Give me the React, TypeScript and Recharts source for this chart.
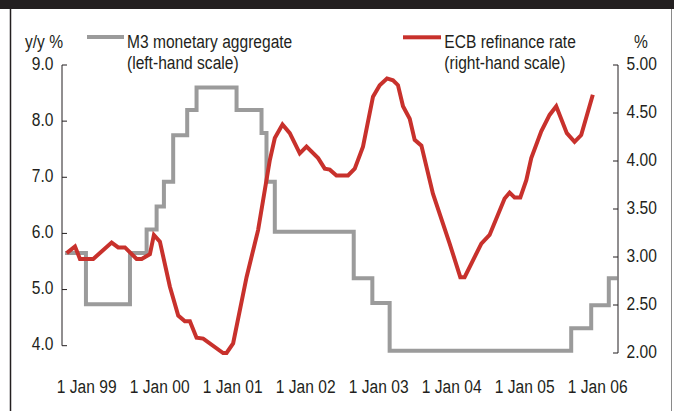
import React from "react";
import { ComposedChart, Line, XAxis, YAxis, ReferenceLine } from "recharts";

const FONT = "'Liberation Sans', Arial, Helvetica, sans-serif";
const INK = "#231f20";
const RED = "#c8312c";
const GREY = "#9b9b9b";
const FS = 19;
const SQUEEZE = 0.82;

// x axis: decimal years, ticks at 1 January
const xTickYears = [1999, 2000, 2001, 2002, 2003, 2004, 2005, 2006];
const xTickLabels = ["1 Jan 99", "1 Jan 00", "1 Jan 01", "1 Jan 02", "1 Jan 03", "1 Jan 04", "1 Jan 05", "1 Jan 06"];
const xDomain = [1998.662, 2006.278];

const leftTicks = [4, 5, 6, 7, 8, 9];
const leftDomain = [3.87, 9];
const rightTicks = [2, 2.5, 3, 3.5, 4, 4.5, 5];
const rightDomain = [2, 5];

// M3 monetary aggregate (left-hand scale), step series: start of each step
const m3Dates = [
  1998.704, 1998.99, 1999.593, 1999.821, 1999.958, 2000.058, 2000.185, 2000.377, 2000.505, 2001.053,
  2001.395, 2001.463, 2001.577, 2002.658, 2002.913, 2003.15, 2005.637, 2005.911, 2006.152, 2006.267,
];
const m3Values = [
  5.65, 4.74, 5.65, 6.07, 6.48, 6.92, 7.75, 8.2, 8.6, 8.2,
  7.79, 6.92, 6.03, 5.2, 4.76, 3.91, 4.31, 4.72, 5.2, 5.2,
];

// ECB refinance rate (right-hand scale)
const ecbDates = [
  1998.726, 1998.84, 1998.908, 1999.09, 1999.342, 1999.432, 1999.524, 1999.684, 1999.753, 1999.866,
  1999.921, 2000.003, 2000.14, 2000.254, 2000.345, 2000.414, 2000.505, 2000.596, 2000.869, 2000.916,
  2001.006, 2001.19, 2001.348, 2001.509, 2001.577, 2001.682, 2001.782, 2001.919, 2002.011, 2002.17,
  2002.261, 2002.33, 2002.421, 2002.58, 2002.672, 2002.785, 2002.922, 2003.014, 2003.114, 2003.196,
  2003.264, 2003.333, 2003.425, 2003.493, 2003.585, 2003.743, 2003.972, 2004.118, 2004.177, 2004.406,
  2004.519, 2004.725, 2004.793, 2004.861, 2004.94, 2005.022, 2005.09, 2005.227, 2005.341, 2005.432,
  2005.577, 2005.683, 2005.774, 2005.933,
];
const ecbValues = [
  3.04, 3.11, 2.98, 2.98, 3.15, 3.1, 3.1, 2.98, 2.98, 3.03,
  3.23, 3.16, 2.69, 2.39, 2.33, 2.33, 2.16, 2.15, 2.0, 2.0,
  2.1, 2.79, 3.28, 4.01, 4.24, 4.38, 4.29, 4.08, 4.15, 4.03,
  3.92, 3.91, 3.85, 3.85, 3.92, 4.15, 4.67, 4.79, 4.86, 4.84,
  4.79, 4.57, 4.44, 4.22, 4.16, 3.66, 3.14, 2.79, 2.79, 3.14,
  3.23, 3.61, 3.67, 3.62, 3.62, 3.8, 4.03, 4.31, 4.48, 4.57,
  4.29, 4.2, 4.27, 4.69,
];

const m3Data = m3Dates.map((t, i) => ({ t, m3: m3Values[i] }));
const ecbData = ecbDates.map((t, i) => ({ t, ecb: ecbValues[i] }));

// condensed-looking text: regular sans squeezed horizontally
const NText = ({ x, y, anchor = "start", children }: any) => (
  <text
    x={0}
    y={0}
    transform={`translate(${x},${y}) scale(${SQUEEZE},1)`}
    textAnchor={anchor}
    fontFamily={FONT}
    fontSize={FS}
    fill={INK}
  >
    {children}
  </text>
);

const XTick = (props: any) => {
  const { x, payload } = props;
  const i = xTickYears.indexOf(payload.value);
  return (
    <NText x={x} y={392.5} anchor="middle">
      {xTickLabels[i]}
    </NText>
  );
};

const LeftTick = (props: any) => {
  const { x, y, payload } = props;
  return (
    <g>
      <line x1={x} x2={x + 5} y1={y} y2={y} stroke={INK} strokeWidth={1} />
      <NText x={x - 8.5} y={y + 4.5} anchor="end">
        {Number(payload.value).toFixed(1)}
      </NText>
    </g>
  );
};

const RightTick = (props: any) => {
  const { x, y, payload } = props;
  return (
    <g>
      <line x1={x - 5} x2={x} y1={y} y2={y} stroke={INK} strokeWidth={1} />
      <NText x={x + 8.5} y={y + 4.5} anchor="start">
        {Number(payload.value).toFixed(2)}
      </NText>
    </g>
  );
};

export default function App() {
  return (
    <div
      style={{
        position: "absolute",
        left: 0,
        top: 0,
        width: 674,
        height: 411,
        background: "#fff",
        overflow: "hidden",
      }}
    >
      <ComposedChart width={674} height={411} margin={{ top: 65, right: 0, bottom: 0, left: 0 }}>
        <XAxis
          dataKey="t"
          type="number"
          domain={xDomain}
          ticks={xTickYears}
          axisLine={false}
          tickLine={false}
          tickSize={0}
          tickMargin={0}
          height={58}
          tick={<XTick />}
          interval={0}
        />
        <YAxis
          yAxisId="left"
          orientation="left"
          domain={leftDomain}
          ticks={leftTicks}
          width={62}
          axisLine={false}
          tickLine={false}
          tickSize={0}
          tickMargin={0}
          tick={<LeftTick />}
          interval={0}
        />
        <YAxis
          yAxisId="right"
          orientation="right"
          domain={rightDomain}
          ticks={rightTicks}
          width={56}
          axisLine={{ stroke: INK, strokeWidth: 1 }}
          tickLine={false}
          tickSize={0}
          tickMargin={0}
          tick={<RightTick />}
          interval={0}
        />
        <ReferenceLine
          yAxisId="left"
          segment={[
            { x: xDomain[0], y: leftTicks[0] },
            { x: xDomain[0], y: leftTicks[leftTicks.length - 1] },
          ]}
          stroke={INK}
          strokeWidth={1}
          ifOverflow="visible"
        />
        <Line
          yAxisId="left"
          data={m3Data}
          dataKey="m3"
          type="stepAfter"
          stroke={GREY}
          strokeWidth={4}
          dot={false}
          activeDot={false}
          isAnimationActive={false}
        />
        <Line
          yAxisId="right"
          data={ecbData}
          dataKey="ecb"
          type="linear"
          stroke={RED}
          strokeWidth={4}
          dot={false}
          activeDot={false}
          isAnimationActive={false}
        />
      </ComposedChart>
      <svg
        width={674}
        height={411}
        style={{ position: "absolute", left: 0, top: 0, pointerEvents: "none" }}
      >
        <rect x={0} y={0} width={674} height={9} fill={INK} />
        <line x1={10.5} x2={10.5} y1={9} y2={411} stroke={INK} strokeWidth={1.5} />
        <line x1={671.5} x2={671.5} y1={9} y2={411} stroke="#8a8a8a" strokeWidth={1} />
        <NText x={25} y={48}>y/y %</NText>
        <rect x={87} y={35} width={37} height={4} fill={GREY} />
        <NText x={127} y={48}>M3 monetary aggregate</NText>
        <NText x={127} y={69}>(left-hand scale)</NText>
        <rect x={403} y={35.3} width={38} height={4} fill={RED} />
        <NText x={444.3} y={48}>ECB refinance rate</NText>
        <NText x={444.3} y={69}>(right-hand scale)</NText>
        <NText x={634} y={48}>%</NText>
      </svg>
    </div>
  );
}
